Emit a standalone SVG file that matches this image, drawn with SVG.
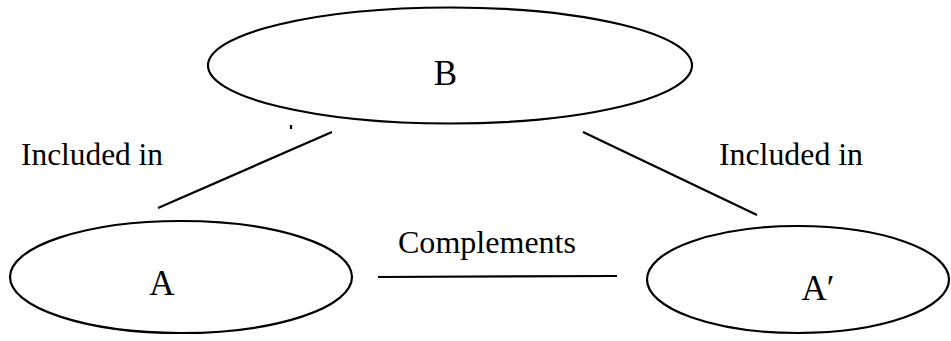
<svg xmlns="http://www.w3.org/2000/svg" width="951" height="341" viewBox="0 0 951 341">
  <style>
    .shape { fill: none; stroke: #000; stroke-width: 2.2; }
    .edge { stroke: #000; stroke-width: 2.2; fill: none; }
    .name { font-family: "Liberation Serif", "Times New Roman", serif; font-size: 35px; fill: #000; text-anchor: middle; }
    .rel { font-family: "Liberation Serif", "Times New Roman", serif; font-size: 31px; fill: #000; }
  </style>
  <rect width="951" height="341" fill="#fff"/>

  <!-- relations between the sets -->
  <g id="connectors">
    <line class="edge" x1="158" y1="208" x2="332" y2="132"/>
    <line class="edge" x1="583" y1="132" x2="757" y2="215"/>
    <line class="edge" x1="378" y1="277" x2="617" y2="276"/>
    <line class="edge" x1="291" y1="125" x2="291" y2="129" stroke-width="1.5"/>
    <text class="rel" x="21" y="165" textLength="142" lengthAdjust="spacingAndGlyphs">Included in</text>
    <text class="rel" x="719" y="165" textLength="144" lengthAdjust="spacingAndGlyphs">Included in</text>
    <text class="rel" x="398" y="253" textLength="178" lengthAdjust="spacingAndGlyphs">Complements</text>
  </g>

  <g id="node-B">
    <ellipse class="shape" cx="450" cy="65.5" rx="242" ry="58"/>
    <text class="name" x="445.5" y="85">B</text>
  </g>

  <g id="node-A">
    <ellipse class="shape" cx="181" cy="277" rx="171" ry="56"/>
    <text class="name" x="162" y="295">A</text>
  </g>

  <g id="node-A-prime">
    <ellipse class="shape" cx="798" cy="279.5" rx="151" ry="53.5"/>
    <text class="name" x="818" y="300">A′</text>
  </g>
</svg>
